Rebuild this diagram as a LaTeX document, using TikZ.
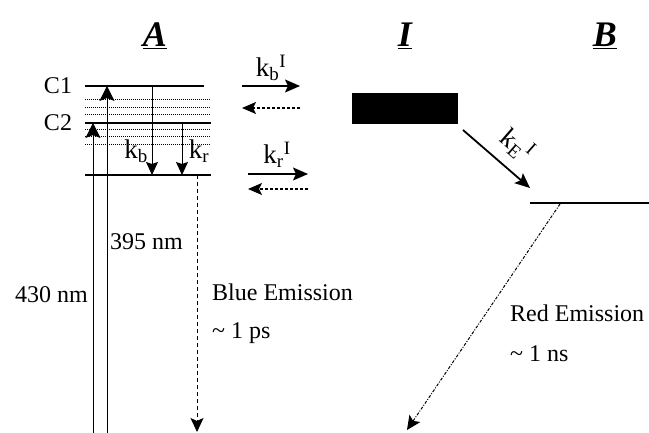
\documentclass[tikz,border=0pt]{standalone}
\usepackage{fontspec}
\setmainfont{Liberation Serif}
\usetikzlibrary{arrows.meta}
\begin{document}
\begin{tikzpicture}[x=1pt,y=-1pt,
  lbl/.style={font=\fontsize{24}{28}\selectfont, inner sep=0pt},
  klbl/.style={font=\fontsize{27}{30}\selectfont, inner sep=0pt},
  ttl/.style={font=\fontsize{36}{40}\selectfont\bfseries\itshape, inner sep=0pt},
  level/.style={line width=1.3pt},
  sublevel/.style={line width=1pt, densely dotted},
  solidarr/.style={-{Stealth[length=15pt,width=13pt,inset=3pt]}, line width=1.8pt},
  absarr/.style={-{Stealth[length=15pt,width=15pt,inset=3pt]}, line width=1pt},
  relarr/.style={-{Stealth[length=13pt,width=12pt,inset=2pt]}, line width=1pt},
  dasharr/.style={-{Stealth[length=14pt,width=12pt,inset=3pt]}, line width=1.3pt, dash pattern=on 3pt off 2pt},
  emis/.style={-{Stealth[length=14pt,width=13pt,inset=3pt]}, line width=1pt, dash pattern=on 4pt off 3pt},
  redemis/.style={-{Stealth[length=14pt,width=13pt,inset=3pt]}, line width=1pt, dash pattern=on 3pt off 1.5pt on 1pt off 1.5pt}]
\useasboundingbox (0,0) rectangle (649,433);
% titles
\node[ttl] (tA) at (155,36) {\underline{A}};
\node[ttl] (tI) at (405,36) {\underline{I}};
\node[ttl] (tB) at (605,36) {\underline{B}};
% levels of A
\coordinate (c1l) at (85,86);  \coordinate (c1r) at (204,86);
\coordinate (c2l) at (85,123); \coordinate (c2r) at (211,123);
\coordinate (gl) at (85,175);  \coordinate (gr) at (211,175);
\draw[level] (c1l) -- (c1r);
\draw[level] (c2l) -- (c2r);
\draw[level] (gl) -- (gr);
\foreach \yy in {100,108,115,130,137,145}
  \draw[sublevel] (85,\yy) -- (211,\yy);
\node[lbl] (C1) at (58,86) {C1};
\node[lbl] (C2) at (58,123) {C2};
% absorption
\coordinate (a430b) at (93,433);  \coordinate (a430t) at (93,123);
\coordinate (a395b) at (107,433); \coordinate (a395t) at (107,86);
\draw[absarr] (a430b) -- (a430t);
\draw[absarr] (a395b) -- (a395t);
\node[lbl, anchor=west] (n395) at (110,242) {395 nm};
\node[lbl, anchor=east] (n430) at (88,295) {430 nm};
% internal relaxation
\coordinate (kbt) at (152,86);  \coordinate (kbb) at (152,175);
\coordinate (krt) at (182,123); \coordinate (krb) at (182,175);
\draw[relarr] (kbt) -- (kbb);
\draw[relarr] (krt) -- (krb);
\node[klbl] (kb) at (136,151) {k\textsubscript{b}};
\node[klbl] (kr) at (199,151) {k\textsubscript{r}};
% blue emission
\coordinate (bet) at (197,175); \coordinate (beb) at (197,432);
\draw[emis] (bet) -- (beb);
\node[lbl, anchor=west, align=left, font=\fontsize{24}{38}\selectfont] (blue) at (212,314) {Blue Emission\\\textasciitilde\ 1 ps};
% exchange with I
\coordinate (kbIl) at (242,86);  \coordinate (kbIr) at (300,86);
\coordinate (kbIl2) at (242,108); \coordinate (kbIr2) at (300,108);
\draw[solidarr] (kbIl) -- (kbIr);
\draw[dasharr] (kbIr2) -- (kbIl2);
\node[klbl] (kbI) at (271,68) {k\textsubscript{b}\textsuperscript{I}};
\coordinate (krIl) at (248,174);  \coordinate (krIr) at (308,174);
\coordinate (krIl2) at (248,189); \coordinate (krIr2) at (308,189);
\draw[solidarr] (krIl) -- (krIr);
\draw[dasharr] (krIr2) -- (krIl2);
\node[klbl] (krI) at (277,155) {k\textsubscript{r}\textsuperscript{I}};
% I state
\node[fill=black, draw=black, minimum width=105pt, minimum height=30pt, inner sep=0pt] (Ibox) at (404.5,108) {};
% to B
\coordinate (kFs) at (463,130); \coordinate (kFe) at (530,188);
\draw[solidarr] (kFs) -- (kFe);
\node[klbl, rotate=-41] (kFI) at (517,145) {k\textsubscript{E}\kern2pt\textsuperscript{I}};
\coordinate (Bl) at (530,203); \coordinate (Br) at (649,203);
\draw[level] (Bl) -- (Br);
% red emission
\coordinate (res) at (560,204); \coordinate (ree) at (407,430);
\draw[redemis] (res) -- (ree);
\node[lbl, anchor=west, align=left, font=\fontsize{24}{40}\selectfont] (red) at (510,333) {Red Emission\\\textasciitilde\ 1 ns};
\end{tikzpicture}
\end{document}
